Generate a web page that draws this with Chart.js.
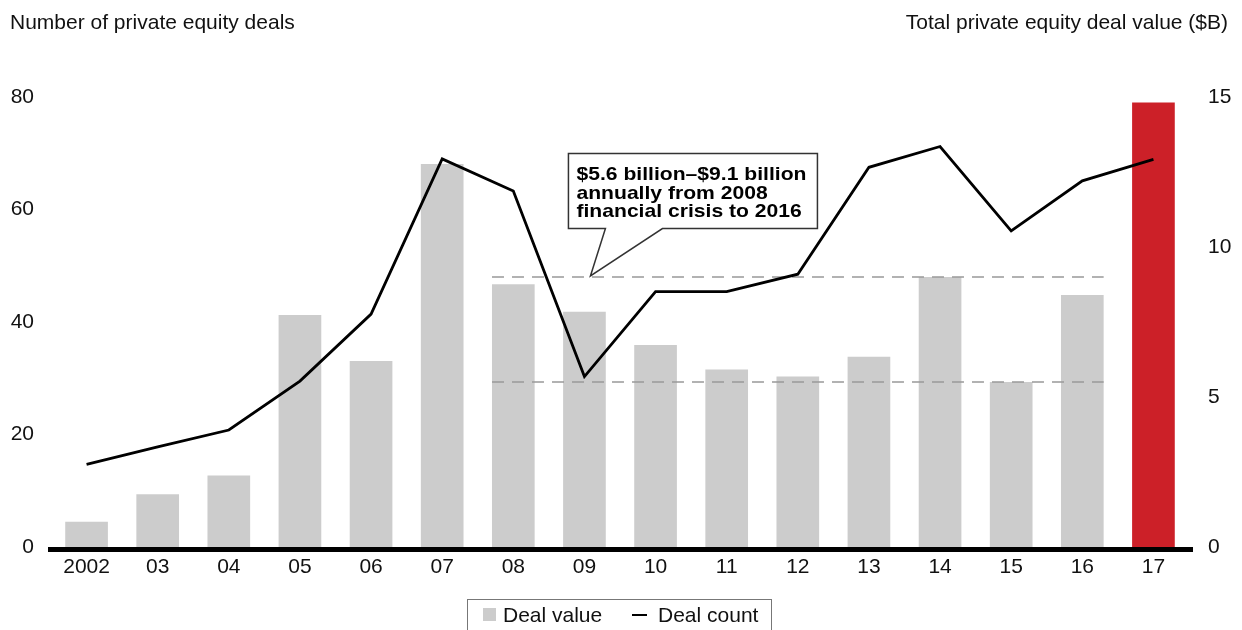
<!DOCTYPE html>
<html>
<head>
<meta charset="utf-8">
<script src="https://cdn.jsdelivr.net/npm/chart.js@4/dist/chart.umd.min.js"></script>
<style>
  body { margin: 0; background: #fff; font-family: "Liberation Sans", Arial, Helvetica, sans-serif; }
  #wrap { position: relative; width: 1242px; height: 630px; overflow: hidden; }
  #legend { position: absolute; left: 467px; top: 599px; width: 303px; height: 40px; border: 1px solid #777; border-bottom: none; }
  #legend .sw { position: absolute; left: 15px; top: 8px; width: 13px; height: 13px; background: #cccccc; }
  #legend .ln { position: absolute; left: 164px; top: 14px; width: 15px; height: 2px; background: #000; }
  #legend .tx { position: absolute; top: 2px; font-size: 21px; line-height: 25px; color: #111; white-space: nowrap; }
</style>
</head>
<body>
<div id="wrap">
  <canvas id="chart" width="1242" height="630"></canvas>
  <div id="legend">
    <span class="sw"></span><span class="tx" style="left:35px">Deal value</span>
    <span class="ln"></span><span class="tx" style="left:190px">Deal count</span>
  </div>
</div>
<script>
// data
var years = ['2002', '03', '04', '05', '06', '07', '08', '09', '10', '11', '12', '13', '14', '15', '16', '17'];
var dealValue = [0.84, 1.76, 2.38, 7.73, 6.2, 12.77, 8.76, 7.84, 6.73, 5.92, 5.68, 6.34, 9.0, 5.5, 8.4, 14.82];
var dealCount = [14.7, 17.8, 20.8, 29.5, 41.4, 69, 63.3, 30.3, 45.4, 45.4, 48.5, 67.5, 71.2, 56.2, 65.1, 68.9];
var leftTicks = [0, 20, 40, 60, 80];
var rightTicks = [0, 5, 10, 15];
var rangeLow = 5.5, rangeHigh = 9.0;       // dashed band, $B
var rangeFrom = '08', rangeTo = '16';
var calloutLines = ['$5.6 billion\u2013$9.1 billion', 'annually from 2008', 'financial crisis to 2016'];

var FONT = '"Liberation Sans", Arial, Helvetica, sans-serif';
var barColors = years.map(function (y, i) { return i === years.length - 1 ? '#cc2028' : '#cccccc'; });

var overlay = {
  id: 'overlay',
  afterDatasetDraw: function (chart, args) {
    if (args.index !== 0) return;
    // dashed range lines over the bars
    var ctx = chart.ctx, x = chart.scales.x, yR = chart.scales.yR;
    var half = (x.getPixelForValue(1) - x.getPixelForValue(0)) * 0.3;
    var x0 = x.getPixelForValue(years.indexOf(rangeFrom)) - half;
    var x1 = x.getPixelForValue(years.indexOf(rangeTo)) + half;
    ctx.save();
    ctx.strokeStyle = '#999';
    ctx.lineWidth = 1.5;
    ctx.setLineDash([12, 8]);
    [rangeLow, rangeHigh].forEach(function (v) {
      var y = yR.getPixelForValue(v);
      ctx.beginPath();
      ctx.moveTo(x0, y);
      ctx.lineTo(x1, y);
      ctx.stroke();
    });
    ctx.restore();
  },
  afterDatasetsDraw: function (chart) {
    var ctx = chart.ctx, a = chart.chartArea, x = chart.scales.x, yR = chart.scales.yR;
    ctx.save();
    // base axis
    ctx.fillStyle = '#000';
    ctx.fillRect(a.left - 3, a.bottom, a.right - a.left + 7, 5);

    // callout box
    var tipX = x.getPixelForValue(years.indexOf('09')) + 6;
    var tipY = yR.getPixelForValue(rangeHigh) - 1;
    var bl = tipX - 22, bt = tipY - 122.5, bw = 249, bh = 75;
    ctx.beginPath();
    ctx.moveTo(bl, bt);
    ctx.lineTo(bl + bw, bt);
    ctx.lineTo(bl + bw, bt + bh);
    ctx.lineTo(tipX + 72, bt + bh);
    ctx.lineTo(tipX, tipY);
    ctx.lineTo(tipX + 15, bt + bh);
    ctx.lineTo(bl, bt + bh);
    ctx.closePath();
    ctx.fillStyle = '#fff';
    ctx.fill();
    ctx.strokeStyle = '#333';
    ctx.lineWidth = 1.5;
    ctx.stroke();

    ctx.fillStyle = '#000';
    ctx.font = 'bold 19px ' + FONT;
    ctx.textAlign = 'left';
    ctx.textBaseline = 'alphabetic';
    // widen the text a bit so the first line fills the box like the original
    var w = ctx.measureText(calloutLines[0]).width;
    var sx = Math.min(1.15, Math.max(1, 230 / w));
    ctx.translate(bl + 8, bt);
    ctx.scale(sx, 1);
    calloutLines.forEach(function (t, i) {
      ctx.fillText(t, 0, 26.7 + i * 18.3);
    });
    ctx.restore();
  },
  afterDraw: function (chart) {
    var ctx = chart.ctx;
    ctx.save();
    ctx.fillStyle = '#111';
    ctx.font = '21px ' + FONT;
    ctx.textBaseline = 'alphabetic';
    ctx.textAlign = 'left';
    ctx.fillText('Number of private equity deals', 10, 28.5);
    ctx.textAlign = 'right';
    ctx.fillText('Total private equity deal value ($B)', 1228, 28.5);
    ctx.restore();
  }
};

new Chart(document.getElementById('chart'), {
  type: 'bar',
  data: {
    labels: years,
    datasets: [{
      label: 'Deal value',
      data: dealValue,
      backgroundColor: barColors,
      yAxisID: 'yR',
      barPercentage: 0.6,
      categoryPercentage: 1.0,
      order: 2
    }, {
      type: 'line',
      label: 'Deal count',
      data: dealCount,
      borderColor: '#000',
      borderWidth: 2.8,
      pointRadius: 0,
      tension: 0,
      fill: false,
      yAxisID: 'yL',
      order: 1
    }]
  },
  options: {
    responsive: false,
    animation: false,
    layout: { padding: { top: 97, bottom: 43, left: 0, right: 0 } },
    plugins: { legend: { display: false }, tooltip: { enabled: false } },
    scales: {
      x: {
        grid: { display: false, drawTicks: false },
        border: { display: false },
        ticks: { color: '#111', font: { family: FONT, size: 21 }, padding: 8, maxRotation: 0, autoSkip: false },
        afterFit: function (s) { s.height = 40; }
      },
      yL: {
        position: 'left',
        min: 0, max: 80,
        afterBuildTicks: function (s) { s.ticks = leftTicks.map(function (v) { return { value: v }; }); },
        grid: { display: false, drawTicks: false },
        border: { display: false },
        ticks: { color: '#111', font: { family: FONT, size: 21 }, padding: 17 },
        afterFit: function (s) { s.width = 51; }
      },
      yR: {
        position: 'right',
        min: 0, max: 15,
        afterBuildTicks: function (s) { s.ticks = rightTicks.map(function (v) { return { value: v }; }); },
        grid: { display: false, drawTicks: false },
        border: { display: false },
        ticks: { color: '#111', font: { family: FONT, size: 21 }, padding: 19 },
        afterFit: function (s) { s.width = 53; }
      }
    }
  },
  plugins: [overlay]
});
</script>
</body>
</html>
